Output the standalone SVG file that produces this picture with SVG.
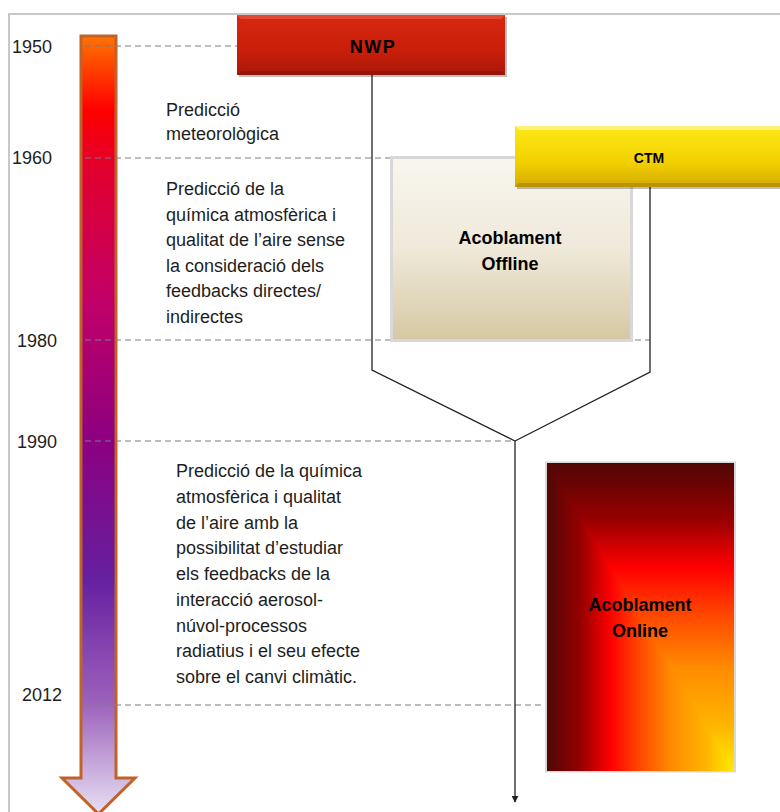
<svg xmlns="http://www.w3.org/2000/svg" width="780" height="812" viewBox="0 0 780 812">
<defs>
<style>
.txt{font-family:"Liberation Sans",Arial,sans-serif;font-size:18px;fill:#1e1e1e}
.yr{font-family:"Liberation Sans",Arial,sans-serif;font-size:18px;fill:#1e1e1e}
.lbl{font-family:"Liberation Sans",Arial,sans-serif;font-weight:bold;fill:#000;text-anchor:middle}
.dash{stroke:#7a7a88;stroke-width:1.2;stroke-dasharray:6 4;fill:none}
.conn{stroke:#222;stroke-width:1.3;fill:none}
</style>
<linearGradient id="tl" x1="0" y1="36" x2="0" y2="812" gradientUnits="userSpaceOnUse">
<stop offset="0" stop-color="#ff7400"/>
<stop offset="0.095" stop-color="#ff0000"/>
<stop offset="0.17" stop-color="#e2002e"/>
<stop offset="0.34" stop-color="#c20068"/>
<stop offset="0.52" stop-color="#8c0080"/>
<stop offset="0.70" stop-color="#6520a0"/>
<stop offset="0.86" stop-color="#9c62bc"/>
<stop offset="1" stop-color="#e6def2"/>
</linearGradient>
<linearGradient id="nwp" x1="0" y1="0" x2="0" y2="1">
<stop offset="0" stop-color="#d82810"/>
<stop offset="0.6" stop-color="#c81e0a"/>
<stop offset="1" stop-color="#a81808"/>
</linearGradient>
<linearGradient id="ctm" x1="0" y1="0" x2="0" y2="1">
<stop offset="0" stop-color="#ffe818"/>
<stop offset="0.6" stop-color="#f2d000"/>
<stop offset="1" stop-color="#d4aa00"/>
</linearGradient>
<linearGradient id="off" x1="0" y1="0" x2="0" y2="1">
<stop offset="0" stop-color="#f8f6ee"/>
<stop offset="0.5" stop-color="#efe9da"/>
<stop offset="1" stop-color="#d6c8a2"/>
</linearGradient>
<linearGradient id="onH" x1="547" y1="0" x2="734" y2="0" gradientUnits="userSpaceOnUse">
<stop offset="0" stop-color="#500606"/>
<stop offset="0.18" stop-color="#960000"/>
<stop offset="0.34" stop-color="#ff0000"/>
<stop offset="0.5" stop-color="#ff4a00"/>
<stop offset="0.66" stop-color="#ff8a00"/>
<stop offset="0.85" stop-color="#ffb400"/>
<stop offset="1" stop-color="#ffec00"/>
</linearGradient>
<linearGradient id="onV" x1="0" y1="463" x2="0" y2="771" gradientUnits="userSpaceOnUse">
<stop offset="0" stop-color="#500606"/>
<stop offset="0.18" stop-color="#960000"/>
<stop offset="0.34" stop-color="#ff0000"/>
<stop offset="0.5" stop-color="#ff4a00"/>
<stop offset="0.66" stop-color="#ff8a00"/>
<stop offset="0.85" stop-color="#ffb400"/>
<stop offset="1" stop-color="#ffec00"/>
</linearGradient>
<marker id="ah" viewBox="0 0 10 10" refX="9" refY="5" markerWidth="7" markerHeight="7" orient="auto" markerUnits="userSpaceOnUse">
<path d="M0,0 L10,5 L0,10 z" fill="#222"/>
</marker>
</defs>
<rect width="780" height="812" fill="#fff"/>
<path d="M9,812 V14 H780" fill="none" stroke="#c8c8c8" stroke-width="2"/>

<g id="timeline">
<polygon points="81,36 116,36 116,778 135,778 98.5,814 62,778 81,778" fill="url(#tl)" stroke="#c0632b" stroke-width="3" stroke-linejoin="miter"/>
</g>

<g id="guides">
<line class="dash" x1="85" y1="46" x2="237" y2="46"/>
<line class="dash" x1="85" y1="158" x2="515" y2="158"/>
<line class="dash" x1="85" y1="340" x2="650" y2="340"/>
<line class="dash" x1="85" y1="441" x2="515" y2="441"/>
<line class="dash" x1="85" y1="705" x2="545" y2="705"/>
</g>

<g id="years">
<text class="yr" x="12" y="52.5">1950</text>
<text class="yr" x="12" y="163.5">1960</text>
<text class="yr" x="17" y="346.5">1980</text>
<text class="yr" x="17" y="447.5">1990</text>
<text class="yr" x="22" y="700.5">2012</text>
</g>

<g id="connectors">
<polyline class="conn" points="372,75 372,370 515,441"/>
<polyline class="conn" points="650,187 650,372 515,441"/>
<line class="conn" x1="515" y1="441" x2="515" y2="802" marker-end="url(#ah)"/>
</g>

<g id="offline">
<rect x="391.5" y="157.5" width="240" height="183" fill="url(#off)" stroke="#d8d8d8" stroke-width="3"/>
<text class="lbl" x="510" y="244" font-size="18">Acoblament</text>
<text class="lbl" x="510" y="270" font-size="18">Offline</text>
</g>

<g id="nwp-node">
<rect x="239" y="17" width="268" height="60" fill="#000" opacity="0.25"/>
<rect x="237" y="15" width="268" height="60" fill="url(#nwp)"/>
<path d="M237,15 H505 L501,19 H241 Z" fill="#e65a40" opacity="0.7"/>
<path d="M237,75 H505 L501,71 H241 Z" fill="#8a1206" opacity="0.6"/>
<text class="lbl" x="373" y="53" font-size="18" letter-spacing="1.5">NWP</text>
</g>

<g id="ctm-node">
<rect x="517" y="128" width="265" height="61" fill="#000" opacity="0.25"/>
<rect x="515" y="126" width="265" height="61" fill="url(#ctm)"/>
<path d="M515,126 H780 V130 H519 Z" fill="#fff6a0" opacity="0.7"/>
<path d="M515,187 H780 V183 H519 Z" fill="#a88400" opacity="0.6"/>
<text class="lbl" x="649" y="163" font-size="14">CTM</text>
</g>

<g id="online">
<rect x="545" y="461.5" width="191" height="311" fill="#d8d8d8"/>
<rect x="547" y="463" width="187" height="308" fill="url(#onH)"/>
<polygon points="547,463 734,463 734,771" fill="url(#onV)"/>
<text class="lbl" x="640" y="611" font-size="18">Acoblament</text>
<text class="lbl" x="640" y="637" font-size="18">Online</text>
</g>

<g id="text1">
<text class="txt" x="166" y="116">Predicció</text>
<text class="txt" x="166" y="140">meteorològica</text>
</g>
<g id="text2">
<text class="txt" x="166" y="195">Predicció de la</text>
<text class="txt" x="166" y="220.5">química atmosfèrica i</text>
<text class="txt" x="166" y="246">qualitat de l’aire sense</text>
<text class="txt" x="166" y="271.5">la consideració dels</text>
<text class="txt" x="166" y="297">feedbacks directes/</text>
<text class="txt" x="166" y="322.5">indirectes</text>
</g>
<g id="text3">
<text class="txt" x="176" y="477">Predicció de la química</text>
<text class="txt" x="176" y="502.7">atmosfèrica i qualitat</text>
<text class="txt" x="176" y="528.5">de l’aire amb la</text>
<text class="txt" x="176" y="554.2">possibilitat d’estudiar</text>
<text class="txt" x="176" y="580">els feedbacks de la</text>
<text class="txt" x="176" y="605.7">interacció aerosol-</text>
<text class="txt" x="176" y="631.5">núvol-processos</text>
<text class="txt" x="176" y="657.2">radiatius i el seu efecte</text>
<text class="txt" x="176" y="683">sobre el canvi climàtic.</text>
</g>
</svg>
